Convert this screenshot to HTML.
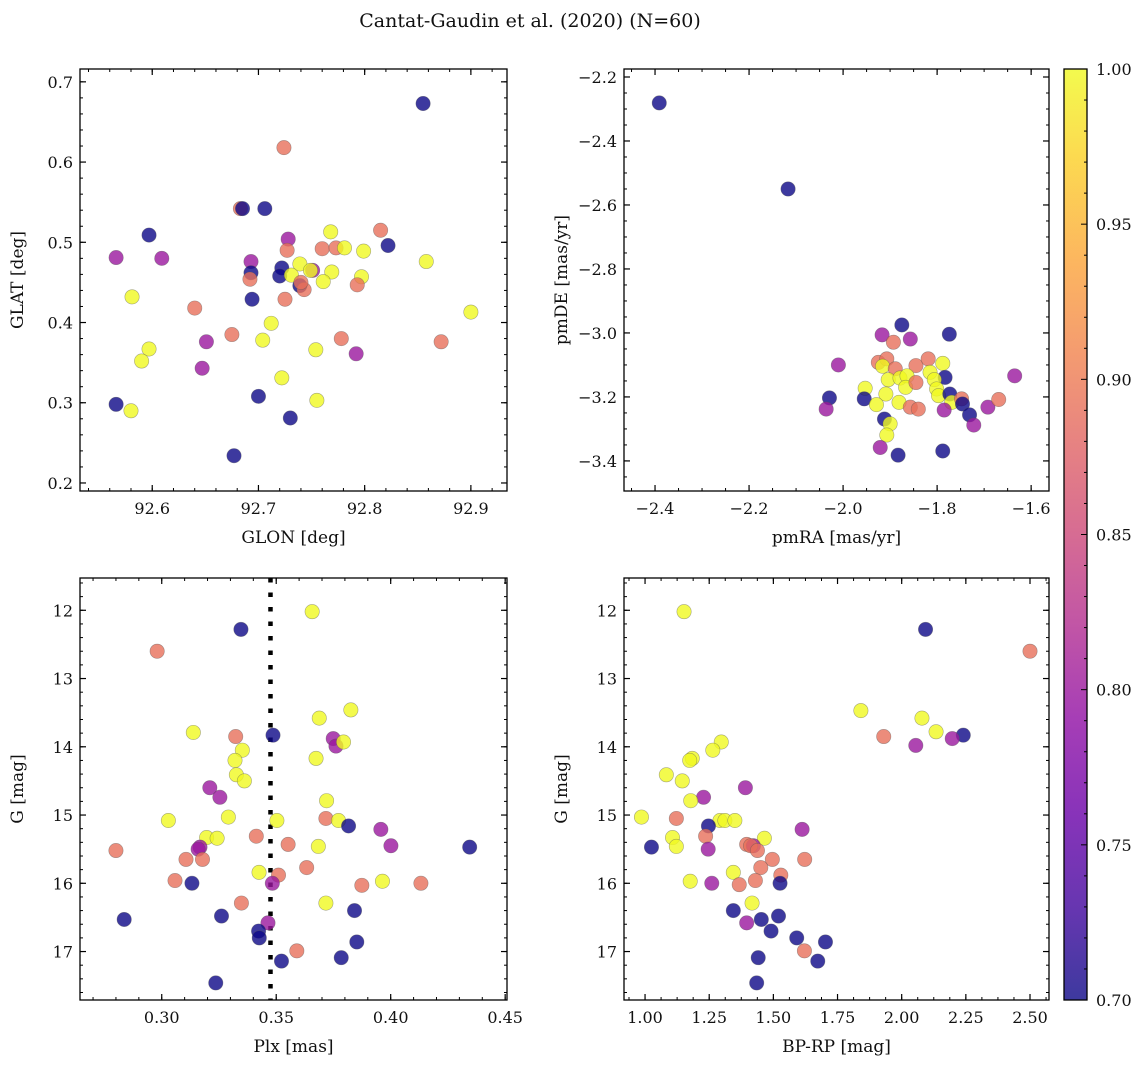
<!DOCTYPE html>
<html><head><meta charset="utf-8"><style>
body{margin:0;background:#fff;}
svg text{font-family:"DejaVu Serif","Liberation Serif",serif;fill:#111;}
</style></head><body>
<svg id="fig" width="1148" height="1068" xmlns="http://www.w3.org/2000/svg">
<defs>
<linearGradient id="plasma" x1="0" y1="1" x2="0" y2="0">
<stop offset="0" stop-color="#0d0887"/><stop offset="0.1" stop-color="#41049d"/><stop offset="0.2" stop-color="#6a00a8"/><stop offset="0.3" stop-color="#8f0da4"/><stop offset="0.4" stop-color="#b12a90"/><stop offset="0.5" stop-color="#cc4778"/><stop offset="0.6" stop-color="#e16462"/><stop offset="0.7" stop-color="#f2844b"/><stop offset="0.8" stop-color="#fca636"/><stop offset="0.9" stop-color="#fcce25"/><stop offset="1" stop-color="#f0f921"/>
</linearGradient>
</defs>
<text x="530" y="27" text-anchor="middle" font-size="19">Cantat-Gaudin et al. (2020) (N=60)</text>
</svg>
<script>
// color class values (membership probability)
const B=0.70,P=0.80,S=0.89,Y=1.0;
// Panel 1: GLON / GLAT
const p1x=[92.855,92.724,92.683,92.685,92.706,92.597,92.566,92.609,92.728,92.727,92.768,92.815,92.822,92.760,92.773,92.781,92.799,92.858,92.693,92.693,92.692,92.722,92.720,92.739,92.731,92.751,92.749,92.769,92.761,92.739,92.743,92.740,92.797,92.793,92.581,92.694,92.725,92.640,92.900,92.712,92.675,92.704,92.651,92.778,92.872,92.597,92.754,92.792,92.590,92.647,92.722,92.700,92.755,92.566,92.580,92.730,92.677];
const p1y=[0.673,0.618,0.542,0.542,0.542,0.509,0.481,0.480,0.504,0.490,0.513,0.515,0.496,0.492,0.493,0.493,0.489,0.476,0.476,0.462,0.454,0.468,0.458,0.473,0.459,0.465,0.465,0.463,0.451,0.446,0.441,0.450,0.457,0.447,0.432,0.429,0.429,0.418,0.413,0.399,0.385,0.378,0.376,0.380,0.376,0.367,0.366,0.361,0.352,0.343,0.331,0.308,0.303,0.298,0.290,0.281,0.234];
const p1c=[B,S,S,B,B,B,P,P,P,S,Y,S,B,S,S,Y,Y,Y,P,B,S,B,B,Y,Y,P,Y,Y,Y,B,S,S,Y,S,Y,B,S,S,Y,Y,S,Y,P,S,S,Y,Y,P,Y,P,Y,B,Y,B,Y,B,B];
// Panel 2: pmRA / pmDE
const p2x=[-2.391,-2.117,-1.875,-1.917,-1.857,-1.774,-1.893,-2.010,-1.925,-1.907,-1.916,-1.889,-1.845,-1.819,-1.788,-1.815,-1.783,-1.635,-1.904,-1.879,-1.864,-1.867,-1.845,-1.806,-1.801,-1.953,-2.029,-1.955,-1.909,-1.929,-1.881,-1.797,-1.773,-1.769,-1.748,-1.746,-2.036,-1.857,-1.840,-1.785,-1.731,-1.692,-1.669,-1.722,-1.912,-1.900,-1.907,-1.921,-1.883,-1.788];
const p2y=[-2.281,-2.550,-2.975,-3.006,-3.019,-3.004,-3.029,-3.100,-3.092,-3.081,-3.104,-3.112,-3.102,-3.081,-3.095,-3.123,-3.139,-3.134,-3.146,-3.141,-3.134,-3.170,-3.155,-3.146,-3.175,-3.173,-3.203,-3.206,-3.191,-3.224,-3.217,-3.196,-3.191,-3.217,-3.206,-3.222,-3.238,-3.232,-3.238,-3.241,-3.256,-3.232,-3.208,-3.288,-3.269,-3.284,-3.319,-3.358,-3.382,-3.369];
const p2c=[B,B,B,P,P,B,S,P,S,S,Y,S,S,S,Y,Y,B,P,Y,Y,Y,Y,S,Y,Y,Y,B,B,Y,Y,Y,Y,B,Y,S,B,P,S,S,P,B,P,S,P,B,Y,Y,P,B,B];
// Panel 3: Plx / G
const p3x=[0.3657,0.3346,0.2980,0.3826,0.3688,0.3138,0.3323,0.3486,0.3749,0.3761,0.3794,0.3352,0.3320,0.3674,0.3326,0.3361,0.3210,0.3254,0.3720,0.3291,0.3029,0.3503,0.3717,0.3772,0.3816,0.3957,0.3413,0.3196,0.3242,0.3552,0.3684,0.4001,0.4345,0.2800,0.3167,0.3159,0.3106,0.3178,0.3633,0.3425,0.3510,0.3058,0.3132,0.3483,0.3964,0.3874,0.4132,0.3348,0.3717,0.3842,0.3261,0.2836,0.3464,0.3423,0.3426,0.3852,0.3590,0.3784,0.3523,0.3236];
const p3y=[12.02,12.28,12.60,13.46,13.58,13.79,13.85,13.83,13.88,13.99,13.93,14.05,14.20,14.17,14.41,14.50,14.60,14.74,14.79,15.03,15.08,15.08,15.05,15.08,15.16,15.21,15.31,15.33,15.34,15.43,15.46,15.45,15.47,15.52,15.47,15.50,15.65,15.65,15.77,15.84,15.88,15.96,16.00,16.00,15.97,16.03,16.00,16.29,16.29,16.40,16.48,16.53,16.58,16.70,16.80,16.86,16.99,17.09,17.14,17.46];
const p3c=[Y,B,S,Y,Y,Y,S,B,P,P,Y,Y,Y,Y,Y,Y,P,P,Y,Y,Y,Y,S,Y,B,P,S,Y,Y,S,Y,P,B,S,P,P,S,S,S,Y,S,S,B,P,Y,S,S,S,Y,B,B,B,P,B,B,B,S,B,B,B];
const plxLine=0.3475;
// Panel 4: BP-RP / G
const p4x=[1.152,2.093,2.500,1.841,2.079,2.134,1.930,2.240,2.197,2.055,1.297,1.264,1.184,1.174,1.083,1.145,1.391,1.228,1.178,0.986,1.122,1.292,1.311,1.350,1.247,1.612,1.236,1.107,1.465,1.122,1.025,1.246,1.396,1.422,1.411,1.438,1.496,1.622,1.451,1.344,1.529,1.176,1.430,1.526,1.260,1.367,1.417,1.344,1.520,1.453,1.396,1.491,1.591,1.703,1.621,1.441,1.673,1.435];
const p4y=[12.02,12.28,12.60,13.47,13.58,13.78,13.85,13.83,13.88,13.98,13.93,14.05,14.17,14.20,14.41,14.50,14.60,14.74,14.79,15.03,15.05,15.08,15.08,15.08,15.16,15.21,15.31,15.33,15.34,15.46,15.47,15.50,15.43,15.45,15.45,15.52,15.65,15.65,15.77,15.84,15.88,15.97,15.96,16.00,16.00,16.02,16.29,16.40,16.48,16.53,16.58,16.70,16.80,16.86,16.99,17.09,17.14,17.46];
const p4c=[Y,B,S,Y,Y,Y,S,B,P,P,Y,Y,Y,Y,Y,Y,P,P,Y,Y,S,Y,Y,Y,B,P,S,Y,Y,Y,B,P,S,P,S,S,S,S,S,Y,S,Y,S,B,P,S,Y,B,B,B,P,B,B,B,S,B,B,B];
// tick labels
const t1x=["92.6","92.7","92.8","92.9"], t1y=["0.2","0.3","0.4","0.5","0.6","0.7"];
const t2x=["−2.4","−2.2","−2.0","−1.8","−1.6"], t2y=["−3.4","−3.2","−3.0","−2.8","−2.6","−2.4","−2.2"];
const t3x=["0.30","0.35","0.40","0.45"], tGy=["12","13","14","15","16","17"];
const t4x=["1.00","1.25","1.50","1.75","2.00","2.25","2.50"];
const tcb=["0.70","0.75","0.80","0.85","0.90","0.95","1.00"];

const NS="http://www.w3.org/2000/svg";
const svg=document.getElementById('fig');
function mk(tag,attrs,parent){const e=document.createElementNS(NS,tag);for(const k in attrs)e.setAttribute(k,attrs[k]);(parent||svg).appendChild(e);return e;}
const stops=[[0,[13,8,135]],[0.1,[65,4,157]],[0.2,[106,0,168]],[0.3,[143,13,164]],[0.4,[177,42,144]],[0.5,[204,71,120]],[0.6,[225,100,98]],[0.7,[242,132,75]],[0.8,[252,166,54]],[0.9,[252,206,37]],[1,[240,249,33]]];
function plasma(v){let t=(v-0.7)/0.3;t=Math.max(0,Math.min(1,t));for(let i=1;i<stops.length;i++){if(t<=stops[i][0]){const a=stops[i-1],b=stops[i];const f=(t-a[0])/(b[0]-a[0]);const c=a[1].map((x,j)=>Math.round(x+(b[1][j]-x)*f));return `rgb(${c})`;}}return 'rgb(240,249,33)';}

function panel(o){
  const g=mk('g',{});
  
  
  const sx=v=>o.x0+(v-o.xmin)/(o.xmax-o.xmin)*(o.x1-o.x0);
  const sy=v=>o.yinv? o.y0+(v-o.ymin)/(o.ymax-o.ymin)*(o.y1-o.y0) : o.y1-(v-o.ymin)/(o.ymax-o.ymin)*(o.y1-o.y0);
  const ticks=(lo,hi,st)=>{const r=[];for(let v=Math.ceil(lo/st-1e-6)*st;v<=hi+1e-9;v+=st)r.push(v);return r;};
  ticks(o.xmin,o.xmax,o.xminor).forEach(v=>{const x=sx(v);mk('line',{x1:x,x2:x,y1:o.y1,y2:o.y1-3,stroke:'#000','stroke-width':1},g);mk('line',{x1:x,x2:x,y1:o.y0,y2:o.y0+3,stroke:'#000','stroke-width':1},g);});
  ticks(o.ymin,o.ymax,o.yminor).forEach(v=>{const y=sy(v);mk('line',{x1:o.x0,x2:o.x0+3,y1:y,y2:y,stroke:'#000','stroke-width':1},g);mk('line',{x1:o.x1,x2:o.x1-3,y1:y,y2:y,stroke:'#000','stroke-width':1},g);});
  o.xt.forEach(s=>{const v=parseFloat(s.replace('−','-'));const x=sx(v);
    mk('line',{x1:x,x2:x,y1:o.y1,y2:o.y1-6,stroke:'#000','stroke-width':1.2},g);mk('line',{x1:x,x2:x,y1:o.y0,y2:o.y0+6,stroke:'#000','stroke-width':1.2},g);
    const t=mk('text',{x:x,y:o.y1+23,'text-anchor':'middle','font-size':16},g);t.textContent=s;
    
    });
  o.yt.forEach(s=>{const v=parseFloat(s.replace('−','-'));const y=sy(v);
    mk('line',{x1:o.x0,x2:o.x0+6,y1:y,y2:y,stroke:'#000','stroke-width':1.2},g);mk('line',{x1:o.x1,x2:o.x1-6,y1:y,y2:y,stroke:'#000','stroke-width':1.2},g);
    const t=mk('text',{x:o.x0-7,y:y+6,'text-anchor':'end','font-size':16},g);t.textContent=s;
    
    });
  if(o.vline!==undefined){const l=mk('line',{x1:sx(o.vline),x2:sx(o.vline),y1:o.y0,y2:o.y1,stroke:'#000','stroke-width':4.5,'stroke-dasharray':'4.5 10'},g);
    
    }
  o.xs.forEach((v,i)=>{const c=mk('circle',{cx:sx(v),cy:sy(o.ys[i]),r:7.2,fill:plasma(o.cs[i]),'fill-opacity':0.8,stroke:'#555','stroke-opacity':0.5,'stroke-width':0.6},g);
    
    });
  const fr=mk('rect',{x:o.x0,y:o.y0,width:o.x1-o.x0,height:o.y1-o.y0,fill:'none',stroke:'#000','stroke-width':1.3},g);
  
  
  const xl=mk('text',{x:(o.x0+o.x1)/2,y:o.y1+52,'text-anchor':'middle','font-size':17},g);xl.textContent=o.xlab;
  
  
  const yl=mk('text',{x:0,y:0,'text-anchor':'middle','font-size':17,transform:`translate(${o.x0-57},${(o.y0+o.y1)/2}) rotate(-90)`},g);yl.textContent=o.ylab;
  
  
}
panel({name:'glon-glat-panel',x0:80,x1:507,y0:69,y1:491,xmin:92.532,xmax:92.934,ymin:0.190,ymax:0.716,xminor:0.02,yminor:0.02,xt:t1x,yt:t1y,xs:p1x,ys:p1y,cs:p1c,xlab:'GLON [deg]',ylab:'GLAT [deg]'});
panel({name:'proper-motion-panel',x0:624,x1:1049,y0:69,y1:491,xmin:-2.466,xmax:-1.562,ymin:-3.494,ymax:-2.175,xminor:0.05,yminor:0.05,xt:t2x,yt:t2y,xs:p2x,ys:p2y,cs:p2c,xlab:'pmRA [mas/yr]',ylab:'pmDE [mas/yr]'});
panel({name:'parallax-mag-panel',x0:80,x1:507,y0:578,y1:1000,xmin:0.2643,xmax:0.4508,ymin:11.527,ymax:17.71,yinv:true,xminor:0.01,yminor:0.2,xt:t3x,yt:tGy,xs:p3x,ys:p3y,cs:p3c,vline:plxLine,xlab:'Plx [mas]',ylab:'G [mag]'});
panel({name:'cmd-panel',x0:624,x1:1049,y0:578,y1:1000,xmin:0.918,xmax:2.574,ymin:11.527,ymax:17.71,yinv:true,xminor:0.0625,yminor:0.2,xt:t4x,yt:tGy,xs:p4x,ys:p4y,cs:p4c,xlab:'BP-RP [mag]',ylab:'G [mag]'});
// colorbar
const cb=mk('g',{});


const cx0=1064,cx1=1087,cy0=69,cy1=1000;
mk('rect',{x:cx0,y:cy0,width:cx1-cx0,height:cy1-cy0,fill:'url(#plasma)','fill-opacity':0.8},cb);
const cys=v=>cy1-(v-0.7)/0.3*(cy1-cy0);
for(let k=0;k<=30;k++){const v=0.7+k*0.01;const y=cys(v);mk('line',{x1:cx1,x2:cx1-(k%5?3:6),y1:y,y2:y,stroke:'#000','stroke-width':1},cb);}
tcb.forEach(s=>{const t=mk('text',{x:cx1+9,y:cys(parseFloat(s))+6,'font-size':16},cb);t.textContent=s;
  
  });
mk('rect',{x:cx0,y:cy0,width:cx1-cx0,height:cy1-cy0,fill:'none',stroke:'#000','stroke-width':1.3},cb);
</script>
</body></html>
